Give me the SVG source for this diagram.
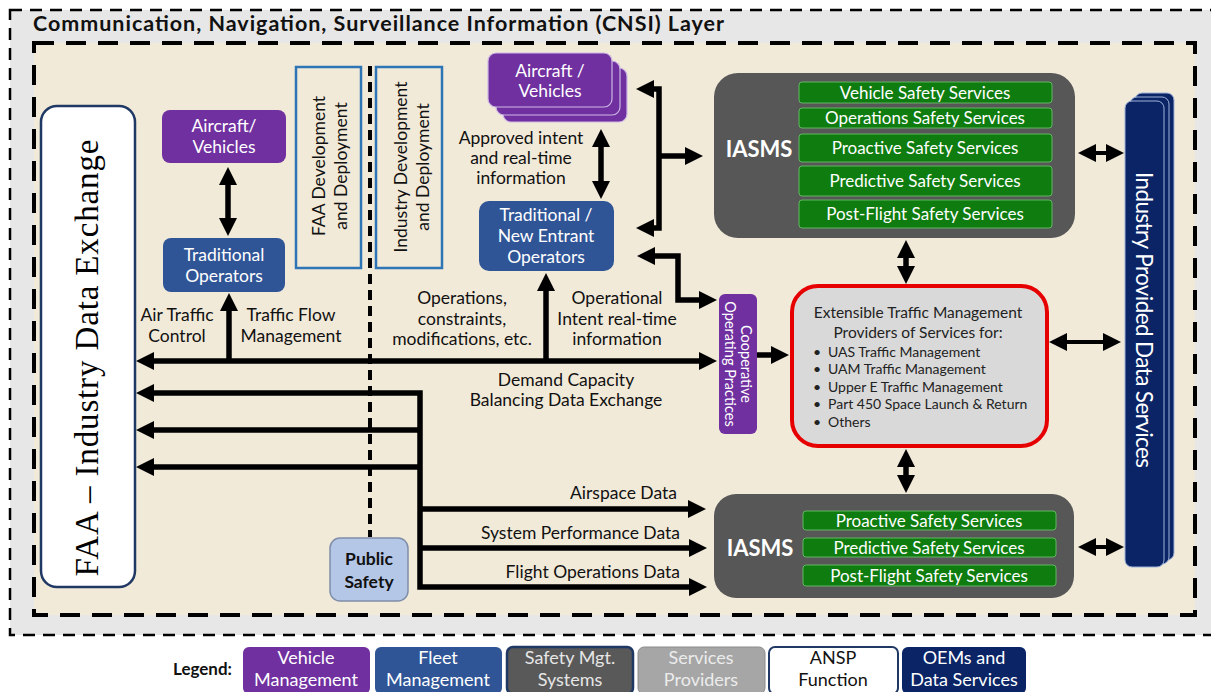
<svg xmlns="http://www.w3.org/2000/svg" width="1211" height="692" viewBox="0 0 1211 692">
<defs>
<marker id="ah" markerUnits="userSpaceOnUse" markerWidth="18" markerHeight="18" refX="4" refY="9" orient="auto-start-reverse" viewBox="0 0 18 18"><path d="M0,0 L18,9 L0,18 z" fill="#000"/></marker>
<style>
text{font-family:Lato,"Open Sans","Liberation Sans",sans-serif;}
.w{fill:#fff;font-size:17.5px;text-anchor:middle;}
.k{fill:#111;font-size:17.5px;text-anchor:middle;}
.g{fill:#fff;font-size:17px;text-anchor:middle;}
.purple{fill:#7030a0;}
.blue{fill:#2f5597;}
.navy{fill:#0a2466;}
.gbar{fill:#0f7c10;stroke:#62b562;stroke-width:1;}
.iasms{fill:#575757;}
.c{fill:none;stroke:#000;stroke-width:5.5;stroke-linejoin:miter;}
.dbl{marker-start:url(#ah);marker-end:url(#ah);}
.end{marker-end:url(#ah);}
.st{marker-start:url(#ah);}
.dev{fill:none;stroke:#2e75b6;stroke-width:2.5;}
</style>
</defs>
<rect x="0" y="0" width="1211" height="692" fill="#fff"/>
<g id="layer">
<rect x="10" y="10" width="1240" height="625" fill="#e7e7e7" stroke="#000" stroke-width="2.5" stroke-dasharray="12 8"/>
<rect x="34" y="43" width="1161" height="572" fill="#f2ead9" stroke="#000" stroke-width="4" stroke-dasharray="20 12"/>
<text x="33" y="31" font-size="21.5" font-weight="bold" fill="#111" textLength="691">Communication, Navigation, Surveillance Information (CNSI) Layer</text>
<line x1="370" y1="66" x2="370" y2="537" stroke="#000" stroke-width="4" stroke-dasharray="10 6"/>
</g>

<g id="connectors">
<path class="c dbl" d="M228,181 V222"/>
<path class="c dbl" d="M150,361 H703"/>
<path class="c end" d="M229,361 V307"/>
<path class="c end" d="M546,361 V287"/>
<path class="c dbl" d="M601,143 V185"/>
<path class="c dbl" d="M650,89 H659 V228 H650"/>
<path class="c end" d="M659,156 H689"/>
<path class="c dbl" d="M651,256 H678 V300 H703"/>
<path class="c end" d="M757,355 H775"/>
<path class="c dbl" d="M906,254 V270"/>
<path class="c dbl" d="M1092,153 H1110" style="stroke-width:4"/>
<path class="c dbl" d="M1063,342 H1107" style="stroke-width:4"/>
<path class="c dbl" d="M906,463 V479"/>
<path class="c dbl" d="M1092,547 H1110" style="stroke-width:4"/>
<path class="c dbl" d="M150,393 H420 V587 H693"/>
<path class="c st" d="M150,430 H420"/>
<path class="c st" d="M150,467 H420"/>
<path class="c end" d="M420,509 H692"/>
<path class="c end" d="M420,548 H693"/>
</g>

<g id="faa">
<rect x="41" y="106" width="94" height="481" rx="16" fill="#fff" stroke="#1f3864" stroke-width="2.5"/>
<text transform="translate(98,358) rotate(-90)" style="font-family:'Liberation Serif',serif" font-size="33" text-anchor="middle" fill="#000" textLength="437">FAA – Industry Data Exchange</text>
</g>

<g id="aircraft-left">
<rect x="162" y="110" width="124" height="53" rx="8" class="purple"/>
<text class="w" x="224" y="132">Aircraft/</text>
<text class="w" x="224" y="153">Vehicles</text>
</g>

<g id="trad-ops">
<rect x="163" y="238" width="122" height="54" rx="8" class="blue"/>
<text class="w" x="224" y="261">Traditional</text>
<text class="w" x="224" y="282">Operators</text>
</g>

<g id="faa-dev">
<rect x="296" y="67" width="65" height="201" class="dev"/>
<text class="k" transform="translate(328,166) rotate(-90)" x="0" y="-3">FAA Development</text>
<text class="k" transform="translate(328,166) rotate(-90)" x="0" y="19">and Deployment</text>
</g>

<g id="ind-dev">
<rect x="376" y="67" width="66" height="201" class="dev"/>
<text class="k" transform="translate(408,167) rotate(-90)" x="0" y="-1">Industry Development</text>
<text class="k" transform="translate(408,167) rotate(-90)" x="0" y="21">and Deployment</text>
</g>

<g id="aircraft-center">
<rect x="503" y="68" width="124" height="54" rx="8" class="purple" stroke="#cdb8e4" stroke-width="1.2"/>
<rect x="496" y="61" width="124" height="54" rx="8" class="purple" stroke="#cdb8e4" stroke-width="1.2"/>
<rect x="488" y="53" width="124" height="54" rx="8" class="purple" stroke="#cdb8e4" stroke-width="1.2"/>
<text class="w" x="550" y="77">Aircraft /</text>
<text class="w" x="550" y="97">Vehicles</text>
</g>

<g id="new-entrant">
<rect x="479" y="201" width="135" height="70" rx="10" class="blue"/>
<text class="w" x="546" y="221">Traditional /</text>
<text class="w" x="546" y="242">New Entrant</text>
<text class="w" x="546" y="263">Operators</text>
</g>

<g id="labels">
<text class="k" x="521" y="144">Approved intent</text>
<text class="k" x="521" y="164">and real-time</text>
<text class="k" x="521" y="184">information</text>
<text class="k" x="177" y="321">Air Traffic</text>
<text class="k" x="177" y="342">Control</text>
<text class="k" x="291" y="321">Traffic Flow</text>
<text class="k" x="291" y="342">Management</text>
<text class="k" x="462" y="304">Operations,</text>
<text class="k" x="462" y="325">constraints,</text>
<text class="k" x="462" y="345">modifications, etc.</text>
<text class="k" x="617" y="304">Operational</text>
<text class="k" x="617" y="325">Intent real-time</text>
<text class="k" x="617" y="345">information</text>
<text class="k" x="566" y="386">Demand Capacity</text>
<text class="k" x="566" y="406">Balancing Data Exchange</text>
<text class="k" x="677" y="499" style="text-anchor:end">Airspace Data</text>
<text class="k" x="680" y="539" style="text-anchor:end">System Performance Data</text>
<text class="k" x="680" y="578" style="text-anchor:end">Flight Operations Data</text>
</g>

<g id="cooperative">
<rect x="719" y="294" width="38" height="140" rx="6" class="purple"/>
<text transform="translate(738,364) rotate(90)" x="0" y="-3" fill="#fff" font-size="14.5" text-anchor="middle">Cooperative</text>
<text transform="translate(738,364) rotate(90)" x="0" y="13" fill="#fff" font-size="14.5" text-anchor="middle">Operating Practices</text>
</g>

<g id="iasms-top">
<rect x="714" y="73" width="361" height="165" rx="24" class="iasms"/>
<text x="759" y="157" fill="#fff" font-size="22" font-weight="bold" text-anchor="middle">IASMS</text>
<rect x="799" y="82" width="253" height="21" rx="3" class="gbar"/>
<text class="g" x="925" y="98.5">Vehicle Safety Services</text>
<rect x="799" y="108" width="253" height="20" rx="3" class="gbar"/>
<text class="g" x="925" y="124">Operations Safety Services</text>
<rect x="799" y="134" width="253" height="28" rx="3" class="gbar"/>
<text class="g" x="925" y="154">Proactive Safety Services</text>
<rect x="799" y="166" width="253" height="30" rx="3" class="gbar"/>
<text class="g" x="925" y="187">Predictive Safety Services</text>
<rect x="799" y="200" width="253" height="28" rx="3" class="gbar"/>
<text class="g" x="925" y="220">Post-Flight Safety Services</text>
</g>

<g id="etm">
<rect x="792" y="286" width="255" height="160" rx="26" fill="#d9d9d9" stroke="#e60000" stroke-width="4"/>
<text x="918" y="318" fill="#222" font-size="15.5" text-anchor="middle">Extensible Traffic Management</text>
<text x="918" y="338" fill="#222" font-size="15.5" text-anchor="middle">Providers of Services for:</text>
<g fill="#222" font-size="14">
<text x="813" y="357">•</text><text x="828" y="357">UAS Traffic Management</text>
<text x="813" y="374">•</text><text x="828" y="374">UAM Traffic Management</text>
<text x="813" y="392">•</text><text x="828" y="392">Upper E Traffic Management</text>
<text x="813" y="409">•</text><text x="828" y="409">Part 450 Space Launch &amp; Return</text>
<text x="813" y="427">•</text><text x="828" y="427">Others</text>
</g>
</g>

<g id="iasms-bottom">
<rect x="714" y="494" width="360" height="104" rx="22" class="iasms"/>
<text x="760" y="556" fill="#fff" font-size="22" font-weight="bold" text-anchor="middle">IASMS</text>
<rect x="803" y="511" width="253" height="19" rx="3" class="gbar"/>
<text class="g" x="929" y="526.5">Proactive Safety Services</text>
<rect x="803" y="538" width="253" height="19" rx="3" class="gbar"/>
<text class="g" x="929" y="553.5">Predictive Safety Services</text>
<rect x="803" y="565" width="253" height="21" rx="3" class="gbar"/>
<text class="g" x="929" y="581.5">Post-Flight Safety Services</text>
</g>

<g id="industry-data">
<rect x="1135" y="93" width="39" height="467" rx="7" class="navy" stroke="#9fb3d9" stroke-width="1"/>
<rect x="1130" y="97" width="39" height="467" rx="7" class="navy" stroke="#9fb3d9" stroke-width="1"/>
<rect x="1125" y="101" width="39" height="466" rx="7" class="navy" stroke="#9fb3d9" stroke-width="1"/>
<text transform="translate(1144,320) rotate(90)" x="0" y="8" fill="#fff" font-size="22.5" text-anchor="middle" textLength="296">Industry Provided Data Services</text>
</g>

<g id="public-safety">
<rect x="330" y="538" width="78" height="63" rx="10" fill="#b4c7e7" stroke="#7f8fa9" stroke-width="1.5"/>
<text x="369" y="565" fill="#111" font-size="17.5" font-weight="bold" text-anchor="middle">Public</text>
<text x="369" y="588" fill="#111" font-size="17.5" font-weight="bold" text-anchor="middle">Safety</text>
</g>

<g id="legend">
<text x="173" y="675" fill="#111" font-size="17" font-weight="bold">Legend:</text>
<rect x="243" y="647" width="127" height="47" rx="6" class="purple"/>
<text class="w" x="306" y="664" style="font-size:18px">Vehicle</text>
<text class="w" x="306" y="686" style="font-size:18px">Management</text>
<rect x="375" y="647" width="127" height="47" rx="6" class="blue"/>
<text class="w" x="438" y="664" style="font-size:18px">Fleet</text>
<text class="w" x="438" y="686" style="font-size:18px">Management</text>
<rect x="507" y="647" width="126" height="47" rx="6" fill="#595959" stroke="#1f3864" stroke-width="2.5"/>
<text class="w" x="570" y="664" style="fill:#e6e6e6;font-size:18px">Safety Mgt.</text>
<text class="w" x="570" y="686" style="fill:#e6e6e6;font-size:18px">Systems</text>
<rect x="638" y="647" width="127" height="47" rx="6" fill="#a6a6a6" stroke="#8c8c8c" stroke-width="1"/>
<text class="w" x="701" y="664" style="fill:#ececec;font-size:18px">Services</text>
<text class="w" x="701" y="686" style="fill:#ececec;font-size:18px">Providers</text>
<rect x="769" y="647" width="129" height="47" rx="6" fill="#fff" stroke="#1f3864" stroke-width="2"/>
<text class="k" x="833" y="664" style="font-size:18px">ANSP</text>
<text class="k" x="833" y="686" style="font-size:18px">Function</text>
<rect x="902" y="647" width="124" height="47" rx="6" class="navy"/>
<text class="w" x="964" y="664" style="font-size:18px">OEMs and</text>
<text class="w" x="964" y="686" style="font-size:18px">Data Services</text>
</g>
</svg>
